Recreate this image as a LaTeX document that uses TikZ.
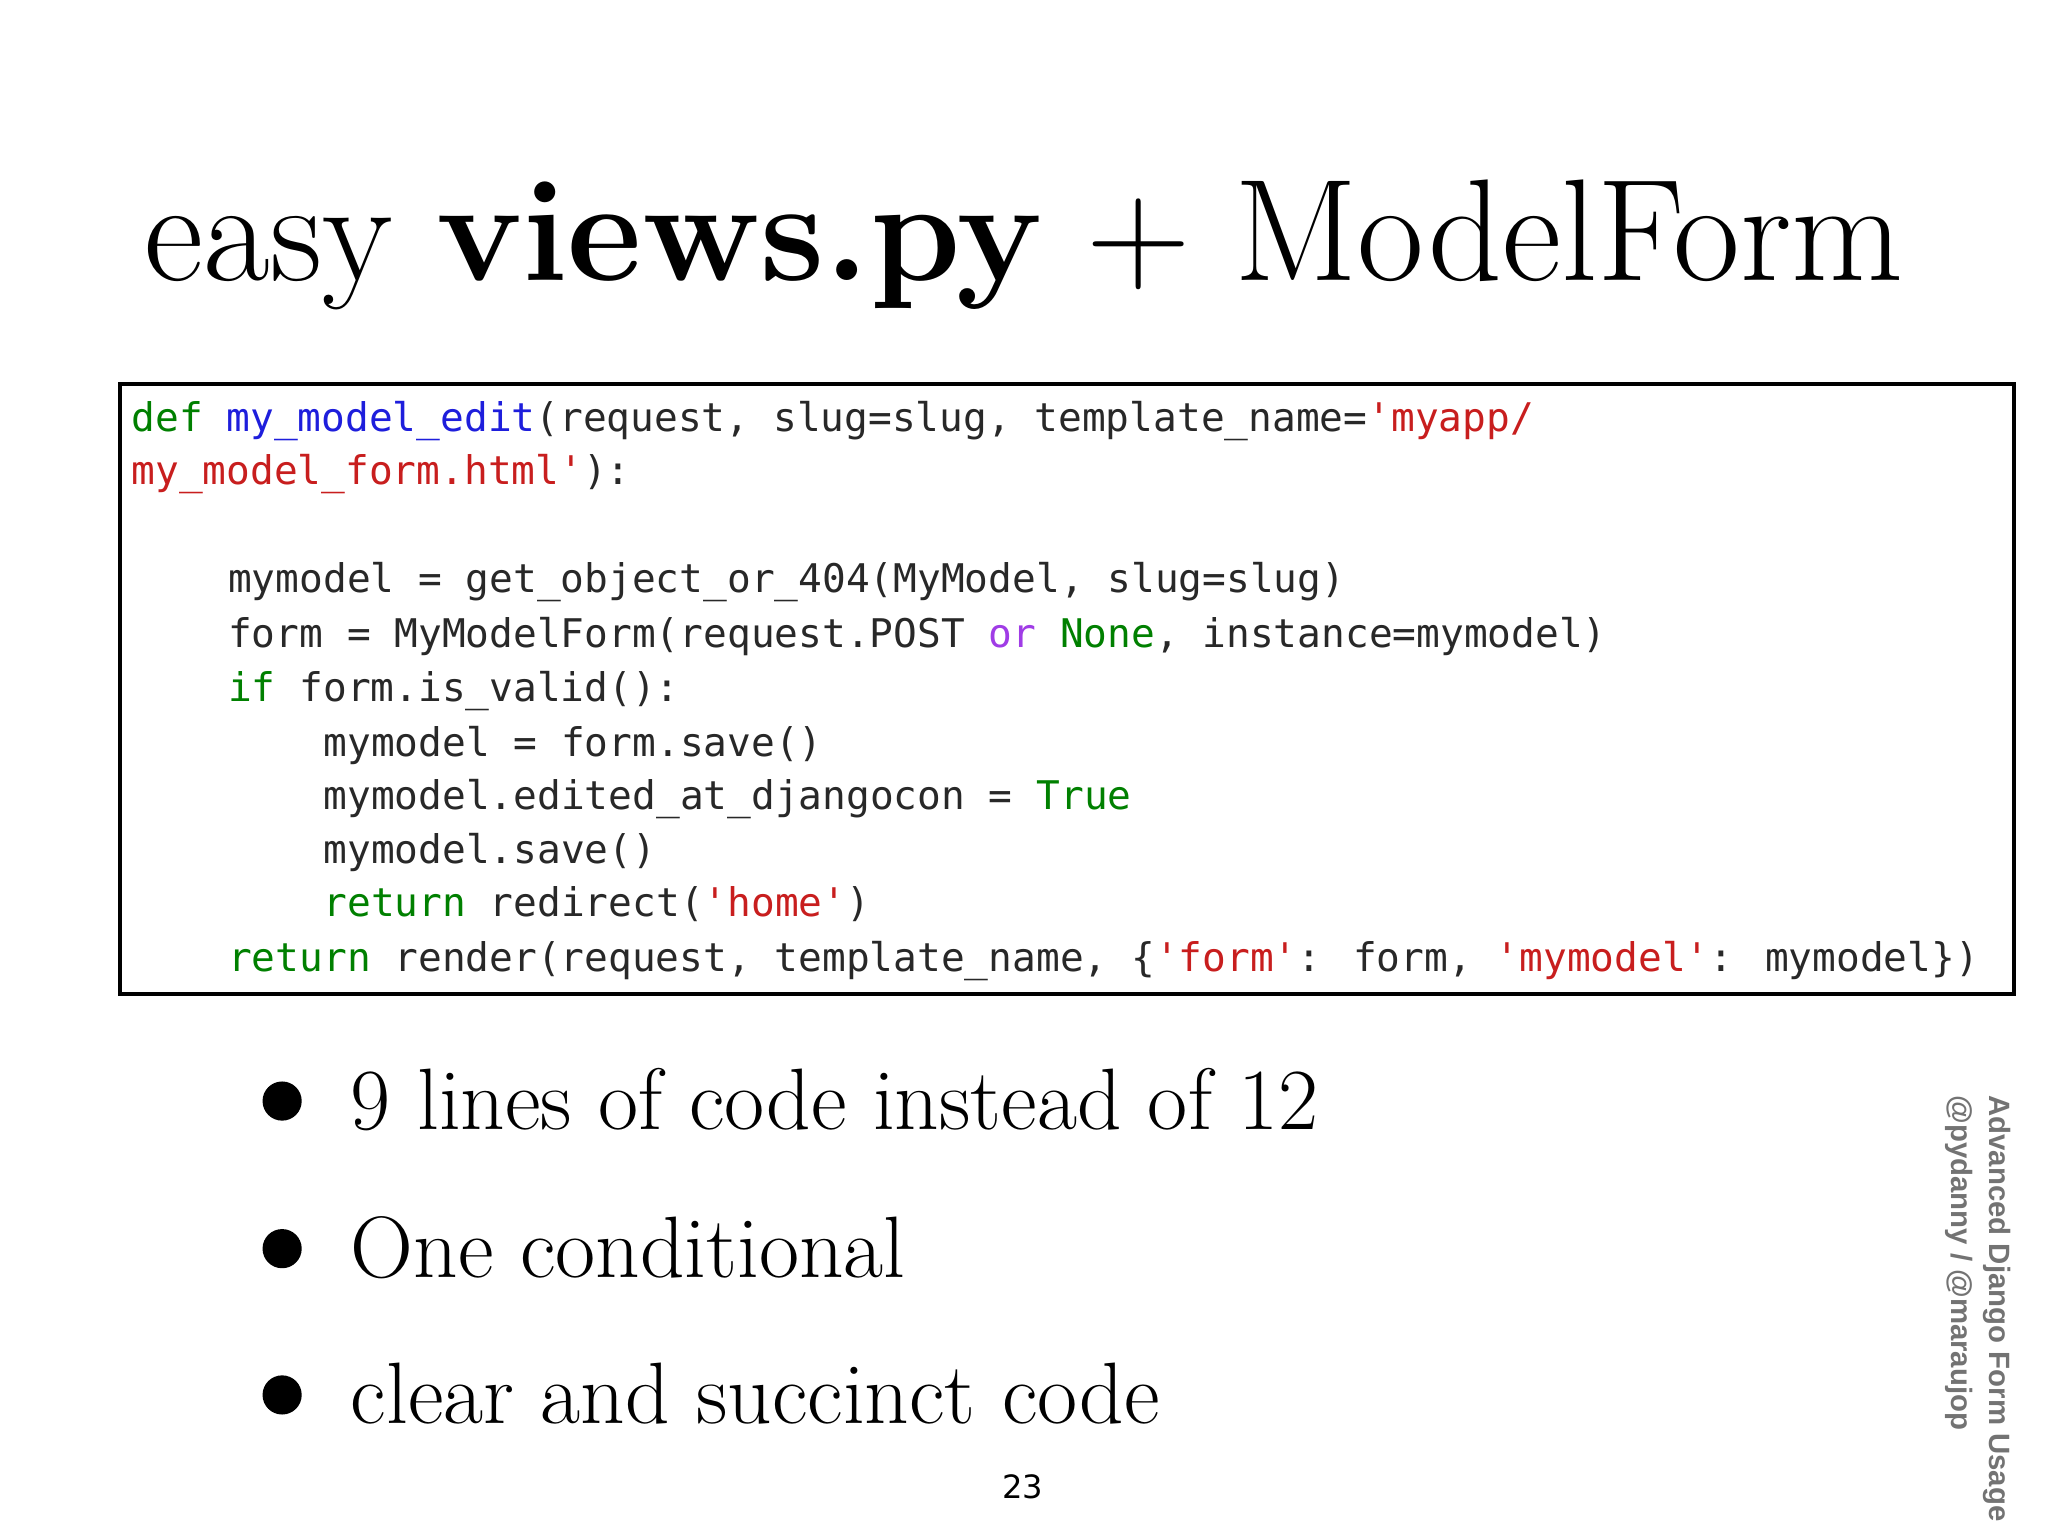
\documentclass[tikz,border=0pt]{standalone}
\usepackage{fontspec}
\newfontfamily\cf{DejaVu Sans Mono}
\newfontfamily\sidef{Liberation Sans}
\newfontfamily\numf{DejaVu Sans}
\definecolor{kw}{RGB}{0,128,0}
\definecolor{fn}{RGB}{30,30,220}
\definecolor{st}{RGB}{200,30,30}
\definecolor{pu}{RGB}{160,60,230}
\definecolor{tx}{RGB}{40,40,40}
\newcommand{\K}[1]{\textcolor{kw}{#1}}
\newcommand{\F}[1]{\textcolor{fn}{#1}}
\newcommand{\Sx}[1]{\textcolor{st}{#1}}
\newcommand{\Pu}[1]{\textcolor{pu}{#1}}
\begin{document}
\begin{tikzpicture}[x=1cm,y=-1cm,
  code/.style={anchor=base west,inner sep=0,font=\cf\fontsize{8.6}{10}\selectfont,text=tx},
  bul/.style={anchor=base west,inner sep=0,font=\fontsize{19}{22}\selectfont},
  dot/.style={circle,fill=black,inner sep=0,minimum size=0.3cm}]
\useasboundingbox (0,0) rectangle (15.68,11.76);
\fill[white] (0,0) rectangle (15.68,11.76);
\node[anchor=base,inner sep=0,font=\fontsize{31.6}{38}\selectfont] (title) at (7.84,2.15) {easy \textbf{views.py} + ModelForm};
\draw[line width=0.8pt] (0.92,2.94) rectangle (15.42,7.61);
\node[code] (l1) at (1.0,3.30) {\K{def} \F{my\_model\_edit}(request, slug=slug, template\_name=\Sx{'myapp/}};
\node[code] (l2) at (1.0,3.71) {\Sx{my\_model\_form.html'}):};
\node[code] (l3) at (1.74,4.54) {mymodel = get\_object\_or\_404(MyModel, slug=slug)};
\node[code] (l4) at (1.74,4.96) {form = MyModelForm(request.POST \Pu{or} \K{None}, instance=mymodel)};
\node[code] (l5) at (1.74,5.37) {\K{if} form.is\_valid():};
\node[code] (l6) at (2.47,5.79) {mymodel = form.save()};
\node[code] (l7) at (2.47,6.20) {mymodel.edited\_at\_djangocon = \K{True}};
\node[code] (l8) at (2.47,6.61) {mymodel.save()};
\node[code] (l9) at (2.47,7.02) {\K{return} redirect(\Sx{'home'})};
\node[code] (l10) at (1.74,7.44) {\K{return} render(request, template\_name, \{\Sx{'form'}: form, \Sx{'mymodel'}: mymodel\})};
\node[dot] (d1) at (2.16,8.43) {};
\node[dot] (d2) at (2.16,9.56) {};
\node[dot] (d3) at (2.16,10.68) {};
\node[bul] (b1) at (2.68,8.65) {9 lines of code instead of 12};
\node[bul] (b2) at (2.68,9.78) {One conditional};
\node[bul] (b3) at (2.68,10.90) {clear and succinct code};
\node[anchor=base,inner sep=0,font=\numf\fontsize{7}{8}\selectfont] (pg) at (7.83,11.47) {23};
\node[rotate=-90,anchor=north west,inner sep=0,align=left,text=black!55,font=\sidef\bfseries\fontsize{6.4}{8.2}\selectfont] (side) at (15.40,8.38) {Advanced Django Form Usage\\@pydanny / @maraujop};
\end{tikzpicture}
\end{document}
